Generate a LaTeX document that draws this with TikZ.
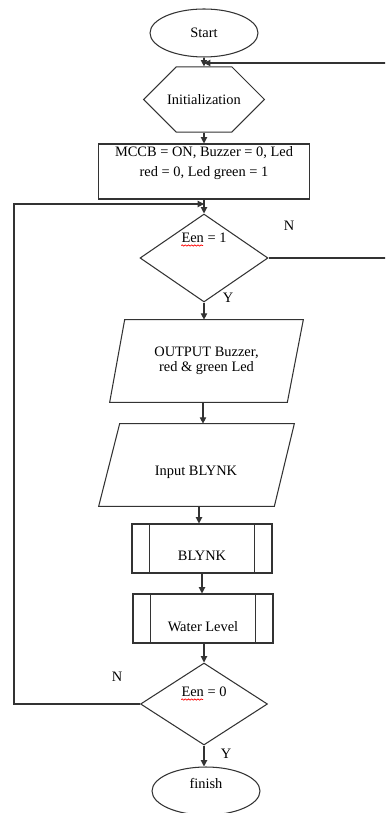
\documentclass[tikz,border=0pt]{standalone}
\usepackage{fontspec}
\setmainfont{Liberation Serif}
\usetikzlibrary{arrows.meta, calc, shapes.geometric, shapes.misc, decorations.pathmorphing}

\begin{document}
\begin{tikzpicture}[x=0.02cm, y=-0.02cm, >={Triangle[length=3.6pt,width=3.6pt]},
    every node/.style={font=\fontsize{8.2}{10}\selectfont, inner sep=0pt},
    flow/.style={draw=black!80, line width=0.6pt},
    terminal/.style={flow, ellipse, minimum width=2.16cm, minimum height=0.96cm},
    prep/.style={flow, chamfered rectangle, chamfered rectangle xsep=0.26cm,
        chamfered rectangle ysep=0.55cm, minimum width=2.42cm, minimum height=1.1cm},
    process/.style={flow, rectangle, minimum width=4.22cm, minimum height=1.1cm},
    decision/.style={flow, diamond, minimum width=2.56cm, minimum height=1.76cm},
    io/.style={rectangle, minimum height=1.64cm},
    subproc/.style={flow, rectangle, minimum width=2.8cm, minimum height=0.98cm,
        path picture={\draw[line width=0.6pt, black!80]
            ([xshift=0.35cm]path picture bounding box.north west) -- ([xshift=0.35cm]path picture bounding box.south west)
            ([xshift=-0.35cm]path picture bounding box.north east) -- ([xshift=-0.35cm]path picture bounding box.south east);}},
    link/.style={->, draw=black!80, line width=0.6pt},
    squiggle/.style={red, line width=0.4pt, decorate, decoration={snake, amplitude=0.35pt, segment length=1.8pt}}]

    \useasboundingbox (0,0) rectangle (385,813);
    \clip (0,0) rectangle (385,813);

    % Shapes
    \node[terminal] (start) at (204,33) {Start};
    \node[prep] (init) at (204,99.5) {Initialization};
    \node[process] (box) at (204,171.5) {};
    \node[align=center] (boxtext) at (204,163) {MCCB = ON, Buzzer = 0, Led\\[1.3pt] red = 0, Led green = 1};
    \node[decision] (d1) at (204,258) {};
    \node (d1text) at (204,238) {Een = 1};
    \node[io, minimum width=3.86cm, align=center] (p1) at (206.5,361) {OUTPUT Buzzer,\\[-1.2pt] red \& green Led};
    \node[io, minimum width=3.9cm] (p2) at (196.5,465) {};
    \node (p2text) at (196,472) {Input BLYNK};
    \node[subproc] (s1) at (202,548.5) {};
    \node (s1text) at (202,556) {BLYNK};
    \node[subproc] (s2) at (203,618.5) {};
    \node (s2text) at (203,627) {Water Level};
    \node[decision, minimum width=2.54cm, minimum height=1.64cm] (d2) at (204,704) {};
    \node (d2text) at (204,692) {Een = 0};
    \node[terminal] (fin) at (206,791) {};
    \node (fintext) at (206,783) {finish};

    % Input/output slants
    \draw[flow] ([xshift=0.3cm]p1.north west) -- (p1.north east) -- ([xshift=-0.32cm]p1.south east) -- (p1.south west) -- cycle;
    \draw[flow] ([xshift=0.42cm]p2.north west) -- (p2.north east) -- ([xshift=-0.4cm]p2.south east) -- (p2.south west) -- cycle;

    % Spelling marks
    \draw[squiggle] ([yshift=-1.6pt]d1text.base west) -- ([yshift=-1.6pt, xshift=12.5pt]d1text.base west);
    \draw[squiggle] ([yshift=-1.6pt]d2text.base west) -- ([yshift=-1.6pt, xshift=12.5pt]d2text.base west);

    % Answers
    \node (n1) at (289,226) {N};
    \node (y1) at (228,298) {Y};
    \node (n2) at (117,677) {N};
    \node (y2) at (226,754) {Y};

    % Arrows
    \coordinate (back1) at (204,63);
    \coordinate (back2) at (204,204);
    \draw[link] (start.south) -- (init.north);
    \draw[link] (init.south) -- (box.north);
    \draw[link] (box.south) -- (d1.north);
    \draw[link] (d1.south) -- (d1.south |- p1.north);
    \draw[link] ([xshift=-0.07cm]p1.south) -- ([xshift=-0.07cm]p1.south |- p2.north);
    \draw[link] ([xshift=0.05cm]p2.south) -- ([xshift=0.05cm]p2.south |- s1.north);
    \draw[link] (s1.south) -- (s1.south |- s2.north);
    \draw[link] (d2.north |- s2.south) -- (d2.north);
    \draw[link] (d2.south) -- (d2.south |- fin.north);

    % Loops back
    \draw[link] (d1.east) -- ++(125,0) |- (back1);
    \draw[link] (d2.west) -- ++(-126,0) |- (back2);
\end{tikzpicture}
\end{document}
